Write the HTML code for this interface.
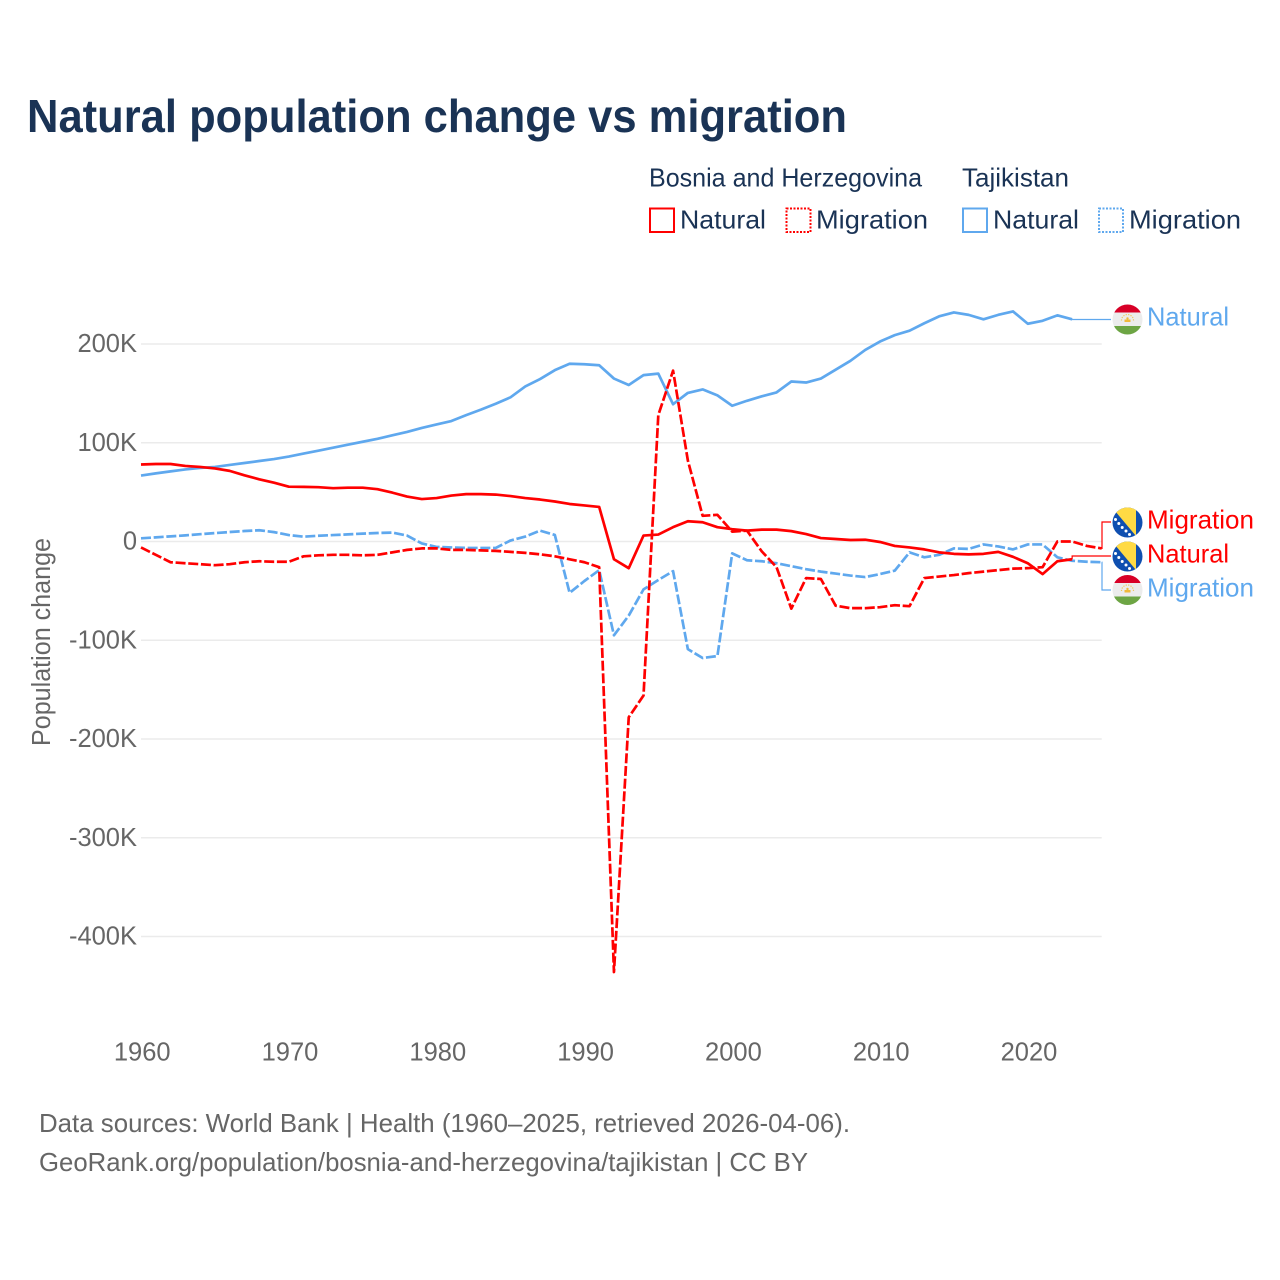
<!DOCTYPE html>
<html lang="en">
<head>
<meta charset="utf-8">
<title>Natural population change vs migration</title>
<style>
html,body{margin:0;padding:0;background:#fff;}
svg{display:block;font-family:"Liberation Sans",sans-serif;}
.tick{font-size:25.5px;fill:#666;}
.leg{font-size:26px;fill:#1a3355;}
.foot{font-size:26px;fill:#666;}
.lab{font-size:26px;}
</style>
</head>
<body>
<svg id="chart" width="1280" height="1280" viewBox="0 0 1280 1280" xmlns="http://www.w3.org/2000/svg">
  <defs>
    <clipPath id="flag-clip"><circle cx="0" cy="0" r="15"/></clipPath>
    <g id="flag-ba" clip-path="url(#flag-clip)">
      <rect x="-16" y="-16" width="32" height="32" fill="#0f4fb0"/>
      <polygon points="-16.300,-16 8.500,-16 8.500,13.500" fill="#ffda44"/>
      <circle cx="-12" cy="-3" r="1.500" fill="#fff"/>
      <circle cx="-8.700" cy="1" r="1.500" fill="#fff"/>
      <circle cx="-5.300" cy="5" r="1.500" fill="#fff"/>
      <circle cx="-1.500" cy="8.500" r="1.500" fill="#fff"/>
      <circle cx="2" cy="12" r="1.500" fill="#fff"/>
    </g>
    <g id="flag-tj" clip-path="url(#flag-clip)">
      <rect x="-16" y="-16" width="32" height="32" fill="#ececec"/>
      <rect x="-16" y="-16" width="32" height="9" fill="#d80027"/>
      <rect x="-16" y="6.500" width="32" height="10" fill="#6da544"/>
      <rect x="-3" y="0" width="6" height="2.500" fill="#f0b93a"/>
      <circle cx="0" cy="-1" r="1.200" fill="#f0b93a"/>
      <path d="M-6 1A6 6 0 0 1 6 1" fill="none" stroke="#f2c75c" stroke-width="1.200" stroke-dasharray="1.200 1.300"/>
    </g>
  </defs>

  <text x="27" y="132" font-size="46" font-weight="700" fill="#1a3355" textLength="820" lengthAdjust="spacingAndGlyphs">Natural population change vs migration</text>

  <g>
    <text class="leg" x="649" y="186.500" textLength="273" lengthAdjust="spacingAndGlyphs">Bosnia and Herzegovina</text>
    <text class="leg" x="962" y="186.500" textLength="107" lengthAdjust="spacingAndGlyphs">Tajikistan</text>
    <rect x="650" y="208.500" width="24" height="23.500" fill="none" stroke="#ff0000" stroke-width="2"/>
    <text class="leg" x="680" y="228.500" textLength="86" lengthAdjust="spacingAndGlyphs">Natural</text>
    <rect x="786.500" y="208.500" width="24" height="23.500" fill="none" stroke="#ff0000" stroke-width="2" stroke-dasharray="2 1.500"/>
    <text class="leg" x="816" y="228.500" textLength="112" lengthAdjust="spacingAndGlyphs">Migration</text>
    <rect x="963" y="208.500" width="24" height="23.500" fill="none" stroke="#5fa8ee" stroke-width="2"/>
    <text class="leg" x="993" y="228.500" textLength="86" lengthAdjust="spacingAndGlyphs">Natural</text>
    <rect x="1099" y="208.500" width="24" height="23.500" fill="none" stroke="#5fa8ee" stroke-width="2" stroke-dasharray="2 1.500"/>
    <text class="leg" x="1129" y="228.500" textLength="112" lengthAdjust="spacingAndGlyphs">Migration</text>
  </g>

  <g id="grid"></g>
  <g id="yticks"></g>
  <g id="xticks"></g>
  <text class="tick" transform="translate(50,746) rotate(-90)" x="0" y="0" textLength="208" lengthAdjust="spacingAndGlyphs">Population change</text>
  <g id="leaders"></g>
  <g id="series"></g>

  <g>
    <use href="#flag-tj" x="1127.500" y="319.500"/>
    <text class="lab" x="1147" y="325.500" fill="#5fa8ee" textLength="82" lengthAdjust="spacingAndGlyphs">Natural</text>
    <use href="#flag-ba" x="1127.500" y="522.500"/>
    <text class="lab" x="1147" y="528.500" fill="#ff0000" textLength="107" lengthAdjust="spacingAndGlyphs">Migration</text>
    <use href="#flag-ba" x="1127.500" y="556.500"/>
    <text class="lab" x="1147" y="562.500" fill="#ff0000" textLength="82" lengthAdjust="spacingAndGlyphs">Natural</text>
    <use href="#flag-tj" x="1127.500" y="590"/>
    <text class="lab" x="1147" y="596.500" fill="#5fa8ee" textLength="107" lengthAdjust="spacingAndGlyphs">Migration</text>
  </g>

  <text class="foot" x="39" y="1132" textLength="811" lengthAdjust="spacingAndGlyphs">Data sources: World Bank | Health (1960–2025, retrieved 2026-04-06).</text>
  <text class="foot" x="39" y="1171" textLength="769" lengthAdjust="spacingAndGlyphs">GeoRank.org/population/bosnia-and-herzegovina/tajikistan | CC BY</text>

<script>
const years = [1960,1961,1962,1963,1964,1965,1966,1967,1968,1969,1970,1971,1972,1973,1974,1975,1976,1977,1978,1979,1980,1981,1982,1983,1984,1985,1986,1987,1988,1989,1990,1991,1992,1993,1994,1995,1996,1997,1998,1999,2000,2001,2002,2003,2004,2005,2006,2007,2008,2009,2010,2011,2012,2013,2014,2015,2016,2017,2018,2019,2020,2021,2022,2023,2024,2025];
const bosniaNatural = [78,78.500,78.500,76.500,75.500,74,71.500,67,63,59.500,55.500,55.300,55,54,54.500,54.500,53,49.500,45.500,43,44,46.500,48,48,47.500,46,44,42.500,40.500,38,36.500,35,-18,-27,6,7,14.500,20.500,19.500,14.500,12.500,11,12,12,10.500,7.500,3.500,2.500,1.500,1.800,-0.500,-4.500,-6,-8,-11,-12.500,-13,-12.500,-10.500,-15.500,-22,-33,-20,-18];
const bosniaMigration = [-6,-13.500,-21,-22,-23,-24,-23,-21,-20,-20.500,-20.500,-15,-14,-13.500,-13.500,-14,-13.500,-11,-8.500,-7,-7,-8.500,-8.500,-9,-9.500,-10.500,-11.500,-13,-15,-18,-21,-26,-436,-178,-156,128,173,82,26,27,10,11,-10,-26,-68,-37,-38,-65,-67.500,-67.500,-66.500,-64.500,-65.500,-37,-35.500,-34,-32,-30.500,-29,-27.500,-27,-26,0,0,-4.500,-7];
const tajikNatural = [66.800,69,71,73,74.500,75.500,77.500,79.500,81.500,83.500,86,89,92,95,98,101,104,107.500,111,115,118.500,122,128,133.500,139.500,146,157,164.500,173.500,180,179.500,178.500,165,158.500,168.500,170,139,150.500,154,148,137.500,142.500,147,151,162,161,165,174,183,194,202.500,209,213.500,221,228,232,229.500,225,229.500,233,220.500,223.500,229,225];
const tajikMigration = [3.200,4.200,5.200,6.200,7.400,8.500,9.600,10.600,11.400,9.500,6.500,4.900,5.800,6.500,7.200,8,8.600,9,6,-2,-5.500,-6,-6.500,-6.500,-6.500,1,5,11,6.600,-52,-40,-29,-95,-75,-48.500,-39,-30,-109,-118,-116,-12,-19,-20,-22,-25,-28,-30.500,-32.500,-34.500,-36,-33,-29.500,-11,-16,-13.500,-7,-7.500,-3,-5,-8,-3,-3,-16,-19.500,-20.500,-21];
const yTickValues = [200,100,0,-100,-200,-300,-400];
const yTickLabels = ["200K","100K","0","-100K","-200K","-300K","-400K"];
const xTickValues = [1960,1970,1980,1990,2000,2010,2020];
const xTickLabels = ["1960","1970","1980","1990","2000","2010","2020"];

const RED = "#ff0000";
const BLUE = "#5fa8ee";
const NS = "http://www.w3.org/2000/svg";
function xAxis(year){ return 141 + (year - 1960) * 14.78; }
function yAxis(k){ return 541.5 - k * 0.9875; }
function mk(tag, parent, attrs){
  const el = document.createElementNS(NS, tag);
  for (const k in attrs) el.setAttribute(k, attrs[k]);
  parent.appendChild(el);
  return el;
}
const gridG = document.getElementById("grid");
const yG = document.getElementById("yticks");
const xG = document.getElementById("xticks");
const seriesG = document.getElementById("series");
const leadG = document.getElementById("leaders");

yTickValues.forEach(function(v, i){
  const ln = mk("line", gridG, {x1:141, x2:xAxis(2025), y1:yAxis(v), y2:yAxis(v), stroke:"#ebebeb", "stroke-width":1.500});
  
  
  const t = mk("text", yG, {x:137, y:yAxis(v) + 8, "text-anchor":"end", class:"tick"});
  
  
  t.textContent = yTickLabels[i];
});
xTickValues.forEach(function(v, i){
  const t = mk("text", xG, {x:xAxis(v) + 1.200, y:1060.500, "text-anchor":"middle", class:"tick"});
  
  
  t.textContent = xTickLabels[i];
});

function pathFor(values){
  return values.map(function(v, i){
    return (i ? "L" : "M") + xAxis(years[i]).toFixed(2) + " " + yAxis(v).toFixed(2);
  }).join("");
}
function leaderFor(values, color, elbowX, labelY){
  const i = values.length - 1;
  const px = xAxis(years[i]);
  const py = yAxis(values[i]);
  const ex = Math.max(px, elbowX);
  const p = mk("path", leadG, {d:"M" + px + " " + py + "L" + ex + " " + py + "L" + ex + " " + labelY + "L1111 " + labelY, fill:"none", stroke:color, "stroke-width":1.200});
  
  
}
leaderFor(tajikNatural, BLUE, 1072, 319.500);
leaderFor(bosniaMigration, RED, 1102, 522);
leaderFor(bosniaNatural, RED, 1072, 556);
leaderFor(tajikMigration, BLUE, 1102, 590);

function drawSeries(values, color, dashed, name){
  const p = mk("path", seriesG, {d:pathFor(values), fill:"none", stroke:color, "stroke-width":2.700, "stroke-linejoin":"round"});
  if (dashed) p.setAttribute("stroke-dasharray", "10 2.700");
  
  
}
drawSeries(tajikMigration, BLUE, true, "line-tajikistan-migration");
drawSeries(tajikNatural, BLUE, false, "line-tajikistan-natural");
drawSeries(bosniaMigration, RED, true, "line-bosnia-migration");
drawSeries(bosniaNatural, RED, false, "line-bosnia-natural");
</script>
</svg>
</body>
</html>
